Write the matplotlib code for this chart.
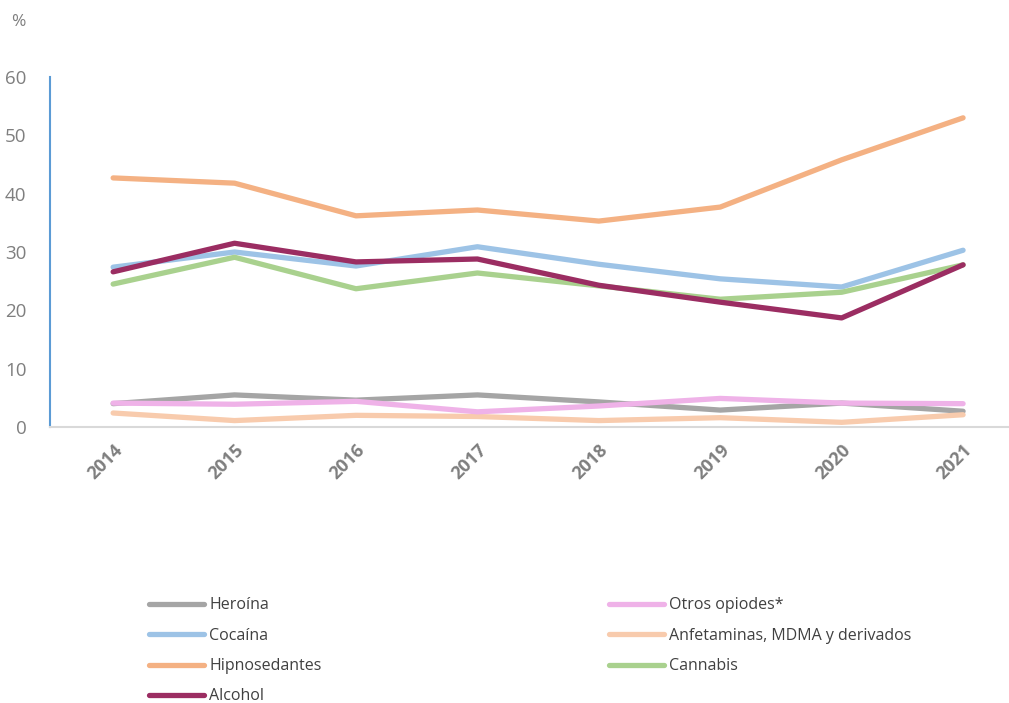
import matplotlib
matplotlib.use("Agg")
import matplotlib.pyplot as plt

years = ["2014", "2015", "2016", "2017", "2018", "2019", "2020", "2021"]

heroina = [4.0, 5.5, 4.6, 5.5, 4.3, 2.9, 4.1, 2.7]
otros_opiodes = [4.1, 3.9, 4.4, 2.6, 3.6, 4.9, 4.1, 4.0]
cocaina = [27.4, 30.0, 27.6, 30.9, 27.9, 25.4, 24.0, 30.3]
anfetaminas = [2.4, 1.1, 2.0, 1.8, 1.1, 1.6, 0.8, 2.1]
hipnosedantes = [42.7, 41.8, 36.2, 37.2, 35.3, 37.7, 45.8, 53.0]
cannabis = [24.5, 29.1, 23.7, 26.4, 24.2, 21.9, 23.1, 27.8]
alcohol = [26.6, 31.5, 28.3, 28.8, 24.3, 21.4, 18.7, 27.8]

# draw order = legend order (column-wise for ncol=2)
series = [
    ("Heroína", heroina, "#a5a5a5"),
    ("Cocaína", cocaina, "#9dc3e6"),
    ("Hipnosedantes", hipnosedantes, "#f4b183"),
    ("Alcohol", alcohol, "#9b2d62"),
    ("Otros opiodes*", otros_opiodes, "#efb2e8"),
    ("Anfetaminas, MDMA y derivados", anfetaminas, "#f8cbad"),
    ("Cannabis", cannabis, "#a9d18e"),
]
z_order = {"Heroína": 2, "Otros opiodes*": 3, "Anfetaminas, MDMA y derivados": 2,
           "Cocaína": 2, "Cannabis": 2, "Alcohol": 4, "Hipnosedantes": 2}

plt.rcParams["font.family"] = ["Open Sans", "DejaVu Sans"]
gray = "#7f7f7f"

fig = plt.figure(figsize=(10.09, 7.03), dpi=100)
ax = fig.add_axes([50 / 1009, 1 - 427 / 703, 958 / 1009, 350 / 703])

x = list(range(len(years)))
for name, vals, col in series:
    ax.plot(x, vals, color=col, lw=3.8, solid_capstyle="round",
            label=name, zorder=z_order[name])

ax.set_xlim(-0.52, 7.37)
ax.set_ylim(0, 60)
ax.set_yticks(range(0, 61, 10))
ax.set_xticks(x)
ax.set_xticklabels(years, rotation=45, ha="right", rotation_mode="anchor",
                   fontweight="bold", color=gray, fontsize=13)
ax.tick_params(axis="y", colors=gray, labelsize=13.5, length=0, pad=17)
ax.tick_params(axis="x", length=0, pad=10)

for s in ["top", "right"]:
    ax.spines[s].set_visible(False)
ax.spines["left"].set_color("#5b9bd5")
ax.spines["left"].set_linewidth(1.5)
ax.spines["left"].set_bounds(0, 60)
ax.spines["bottom"].set_color("#d9d9d9")
ax.spines["bottom"].set_linewidth(1.5)

fig.text(18 / 1009, 1 - 22 / 703, "%", color=gray, fontsize=12.5, ha="center", va="center")

leg = fig.legend(loc="upper left", bbox_to_anchor=(135 / 1009, 1 - 583 / 703),
                 ncol=2, frameon=False, fontsize=11.5, handlelength=3.45,
                 handletextpad=0.3, columnspacing=18.0, labelspacing=0.9,
                 labelcolor="#404040")
for line in leg.get_lines():
    line.set_linewidth(3.8)

fig.savefig("out.png", dpi=100)
